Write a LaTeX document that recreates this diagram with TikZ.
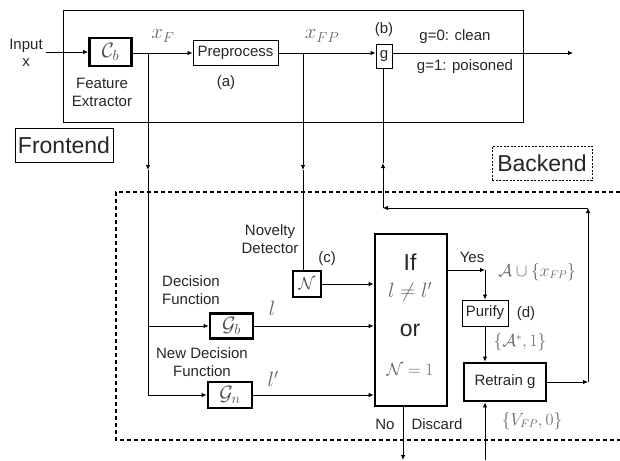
\documentclass[tikz,border=0pt]{standalone}
\usepackage{fontspec}
\setmainfont{Liberation Sans}
\usetikzlibrary{arrows.meta}
\begin{document}
\begin{tikzpicture}[x=1pt,y=-1pt,
  every node/.style={font=\fontsize{15}{18}\selectfont, text=black!85},
  thinbox/.style={draw, line width=0.9pt, inner sep=0pt},
  thickbox/.style={draw, line width=2.8pt, inner sep=0pt},
  arr/.style={-{Latex[length=5pt,width=4.5pt]}, line width=0.8pt},
  ln/.style={line width=0.8pt},
  mlbl/.style={text=black!60, font=\fontsize{21}{24}\selectfont},
  slbl/.style={text=black!60, font=\fontsize{16}{19}\selectfont},
  boxmath/.style={text=black!70, font=\fontsize{20}{22}\selectfont},
  bigtxt/.style={font=\fontsize{23}{27}\selectfont},
  backdash/.style={dash pattern=on 4pt off 3pt, line width=1.2pt}
]
\useasboundingbox (0,0) rectangle (620,460);

% frontend frame
\draw[line width=0.9pt] (63,10) rectangle (523,122);
\node[thinbox, minimum width=98pt, minimum height=34pt, bigtxt] (fe) at (64,145) {Frontend};
\node[draw, dash pattern=on 2pt off 1.5pt, line width=0.9pt, inner sep=0pt, minimum width=100pt, minimum height=34pt, bigtxt] (be) at (542,163) {Backend};

% backend dashed frame (open at right)
\draw[backdash] (620,192) -- (116,192) -- (116,440) -- (620,440);

% frontend nodes
\node[align=center] (in) at (26,53) {Input\\[-1pt]x};
\node[thickbox, minimum width=42pt, minimum height=28pt, boxmath] (cb) at (110.5,52) {$\mathcal{C}_b$};
\node[align=center] (fx) at (102,92) {Feature\\Extractor};
\node[thinbox, minimum width=85pt, minimum height=25pt] (pre) at (235.5,53) {Preprocess};
\node (la) at (226,83) {(a)};
\node[thinbox, minimum width=16pt, minimum height=24pt] (g) at (384,56) {g};
\node (lb) at (384,30) {(b)};
\node (g0) at (455,37) {g=0: clean};
\node (g1) at (465,67) {g=1: poisoned};
\node[mlbl] (xf) at (163,36) {$x_F$};
\node[mlbl] (xfp) at (322,36) {$x_{FP}$};
\coordinate (out) at (573,53);

% backend nodes
\node[thickbox, minimum width=28pt, minimum height=26pt, boxmath, font=\fontsize{18}{20}\selectfont] (nd) at (307,284) {$\mathcal{N}$};
\node[align=center] (nvl) at (270,239) {Novelty\\Detector};
\node (lc) at (327,259) {(c)};
\node[thickbox, minimum width=43pt, minimum height=25pt, boxmath] (gb) at (231.5,326) {$\mathcal{G}_b$};
\node[align=center] (dfl) at (191,290) {Decision\\Function};
\node[thickbox, minimum width=44pt, minimum height=26pt, boxmath] (gn) at (230,395) {$\mathcal{G}_n$};
\node[align=center] (ndf) at (202,362) {New Decision\\Function};
\node[mlbl] (ll) at (272,308) {$l$};
\node[mlbl] (llp) at (273,379) {$l'$};

\node[thickbox, minimum width=72pt, minimum height=172pt] (dec) at (411,320) {};
\node[bigtxt] (tif) at (410,262) {If};
\node[mlbl, font=\fontsize{22}{25}\selectfont] (tneq) at (410,292) {$l\neq l'$};
\node[bigtxt] (tor) at (410,330) {or};
\node[mlbl, font=\fontsize{19}{22}\selectfont] (tn1) at (410,370) {$\mathcal{N}=1$};

\node[thinbox, minimum width=46pt, minimum height=26pt] (pur) at (485,313) {Purify};
\node (ld) at (526,314) {(d)};
\node[thickbox, minimum width=82pt, minimum height=38pt] (ret) at (505,382) {Retrain g};
\node (yes) at (472,257) {Yes};
\node[slbl] (aux) at (537,272) {$\mathcal{A}\cup\{x_{FP}\}$};
\node[slbl] (a1) at (520,342) {$\{\mathcal{A}^{*},1\}$};
\node[slbl] (v0) at (532,421) {$\{V_{FP},0\}$};
\node (no) at (385,424) {No};
\node (disc) at (437,424) {Discard};

% coordinates
\coordinate (jF) at (148,53);
\coordinate (jFa) at (148,170);
\coordinate (jFb) at (148,395);
\coordinate (jFg) at (148,326);
\coordinate (jP) at (303,53);
\coordinate (jPa) at (303,170);
\coordinate (jY) at (485,270);
\coordinate (jR) at (588,382);
\coordinate (jT) at (588,208);
\coordinate (jL) at (383,208);
\coordinate (jG) at (383,163);
\coordinate (dB) at (403,460);
\coordinate (rB) at (485,460);

% connectors
\draw[arr] (in.east |- cb.west) -- (cb.west);
\draw[arr] (cb.east |- pre.west) -- (pre.west);
\draw[arr] (pre.east) -- (g.west |- pre.east);
\draw[arr] (g.east |- out) -- (out);
\draw[arr] (jF) -- (jFa);
\draw[ln] (jFa) -- (jFb);
\draw[arr] (jFg) -- (gb.west);
\draw[arr] (jFb) -- (gn.west);
\draw[arr] (jP) -- (jPa);
\draw[ln] (jPa) -- (jPa |- nd.north);
\draw[arr] (nd.east) -- (nd.east -| dec.west);
\draw[arr] (gb.east) -- (gb.east -| dec.west);
\draw[arr] (gn.east) -- (gn.east -| dec.west);
\draw[arr] (dec.east |- jY) -- (jY);
\draw[arr] (jY) -- (pur.north);
\draw[arr] (pur.south) -- (ret.north -| pur.south);
\draw[arr] (ret.east |- jR) -- (jR);
\draw[arr] (jR) -- (jT);
\draw[arr] (jT) -- (jL);
\draw[arr] (jL) -- (jG);
\draw[ln] (jG) -- (g.south -| jG);
\draw[arr] (dec.south -| dB) -- (dB);
\draw[arr] (rB) -- (rB |- ret.south);
\end{tikzpicture}
\end{document}
